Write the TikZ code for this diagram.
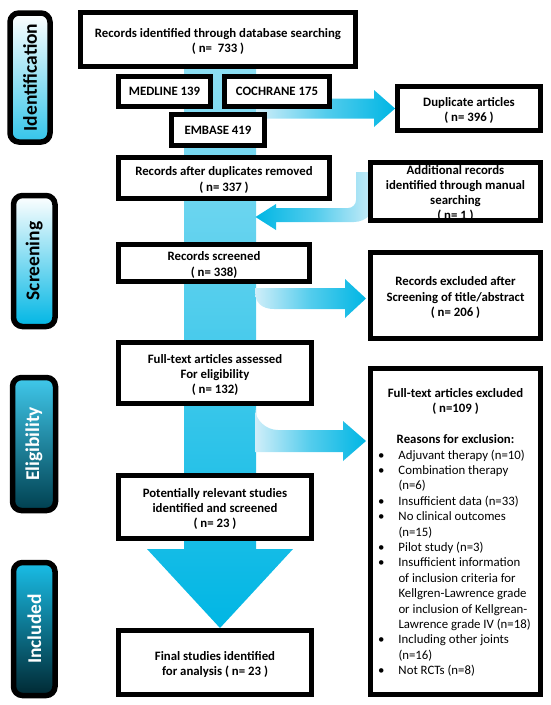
\documentclass[tikz,border=0pt]{standalone}
\usepackage{fontspec}
\usepackage{graphicx}
\usepackage{array}
\setmainfont{Carlito}
\usetikzlibrary{backgrounds}

\definecolor{flowcyan}{RGB}{0,182,228}
\definecolor{flowpale}{RGB}{208,238,249}

\newcommand{\boxlines}[1]{\raisebox{-2.5pt}[\height][\depth]{\begin{tabular}{@{}c@{}}#1\end{tabular}}}

\begin{document}
\begin{tikzpicture}[
    x=1pt,
    y=-1pt,
    box/.style={draw=black, line width=4.5pt, fill=white, inner sep=0pt,
      font=\bfseries\fontsize{12.8}{15.4}\selectfont},
    phase/.style={draw=black, line width=5.5pt, rounded corners=9pt, inner sep=0pt,
      font=\bfseries\fontsize{19.5}{19.5}\selectfont},
    identfill/.style={top color=white, middle color=white, bottom color=flowcyan!80!white},
    screenfill/.style={top color=white, middle color=flowcyan!50!white, bottom color=flowcyan},
    eligfill/.style={top color=flowcyan!75!white, middle color=flowcyan!85!black, bottom color=flowcyan!35!black},
    inclfill/.style={top color=flowcyan!90!white, middle color=flowcyan!55!black, bottom color=flowcyan!22!black},
    bandfill/.style={top color=flowcyan!45!white, middle color=flowcyan!88!white, bottom color=flowcyan},
    flowright/.style={left color=flowpale, right color=flowcyan, middle color=flowcyan!60!flowpale},
    flowleft/.style={left color=flowcyan, right color=flowpale, middle color=flowcyan!60!flowpale}
  ]
    \useasboundingbox (0,0) rectangle (550,705);

    % phase labels on the left
    \foreach \name/\xc/\yc/\bw/\bh/\fillstyle/\ink/\txt in {
      ident/30/77.5/40/129/identfill/black/Identification,
      screen/34.25/261/41.5/131/screenfill/black/Screening,
      elig/34/444/43/133/eligfill/white/Eligibility,
      incl/34.25/629/41.5/133/inclfill/white/Included} {
      \node[phase, \fillstyle, text=\ink, minimum width=\bw, minimum height=\bh]
        (\name) at (\xc,\yc) {\rotatebox{90}{\txt}};
    }

    % flow boxes
    \node[box, minimum width=275.4, minimum height=54.4] (db) at (218,39.5)
      {\boxlines{Records identified through database searching\\( n=\ \ 733 )}};
    \node[box, minimum width=92.4, minimum height=30.4] (medline) at (164.5,91.5) {MEDLINE 139};
    \node[box, minimum width=105.4, minimum height=30.4] (cochrane) at (277,91.5) {COCHRANE 175};
    \node[box, minimum width=93.4, minimum height=31.4] (embase) at (218,130) {EMBASE 419};
    \node[box, minimum width=143.4, minimum height=44.4] (dup) at (469,108.5)
      {\boxlines{Duplicate articles\\( n= 396 )}};
    \node[box, minimum width=211.4, minimum height=41.4] (afterdup) at (224,178)
      {\boxlines{Records after duplicates removed\\( n= 337 )}};
    \node[box, minimum width=170.4, minimum height=58.4, inner ysep=-3pt,
      font=\bfseries\fontsize{12.8}{15.1}\selectfont] (addl) at (455.5,191.5)
      {\boxlines{Additional records\\identified through manual\\searching\\( n= 1 )}};
    \node[box, minimum width=191.4, minimum height=37.4] (screened) at (214,263)
      {\boxlines{Records screened\\( n= 338)}};
    \node[box, minimum width=170.4, minimum height=86.4] (rexcl) at (455.5,295.5)
      {\boxlines{Records excluded after\\Screening of title/abstract\\( n= 206 )}};
    \node[box, minimum width=193.4, minimum height=61.4] (ftass) at (215,373)
      {\boxlines{Full-text articles assessed\\For eligibility\\( n= 132)}};
    \node[box, minimum width=193.4, minimum height=63.4] (potent) at (215,507)
      {\boxlines{Potentially relevant studies\\identified and screened\\( n= 23 )}};
    \node[box, minimum width=193.4, minimum height=64.4] (final) at (215,662.5)
      {\boxlines{Final studies identified\\for analysis ( n= 23 )}};
    \node[box, minimum width=170.4, minimum height=326.4] (ftexcl) at (455.5,531.5) {%
      \raisebox{-1.5pt}[\height][\depth]{%
      \begin{tabular}{@{}>{\mdseries\hspace*{7.5pt}}p{28pt}@{}>{\mdseries}p{142pt}@{}}
        \multicolumn{2}{@{}c@{}}{Full-text articles excluded}\\
        \multicolumn{2}{@{}c@{}}{( n=109 )}\\
        \multicolumn{2}{@{}c@{}}{}\\
        \multicolumn{2}{@{}c@{}}{Reasons for exclusion:}\\
        \textbullet & Adjuvant therapy (n=10)\\
        \textbullet & Combination therapy\\
                    & (n=6)\\
        \textbullet & Insufficient data (n=33)\\
        \textbullet & No clinical outcomes\\
                    & (n=15)\\
        \textbullet & Pilot study (n=3)\\
        \textbullet & Insufficient information\\
                    & of inclusion criteria for\\
                    & Kellgren-Lawrence grade\\
                    & or inclusion of Kellgrean-\\
                    & Lawrence grade IV (n=18)\\
        \textbullet & Including other joints\\
                    & (n=16)\\
        \textbullet & Not RCTs (n=8)
      \end{tabular}}};

    % band and block arrows behind the boxes
    \begin{scope}[on background layer]
      \shade[bandfill] (184,69) -- (256,69) -- (256,549) -- (293,549) -- (220,628)
        -- (147,549) -- (184,549) -- cycle;
      \shade[flowright] (256,98.5) -- (374,98.5) -- (374,90) -- (dup.west) -- (374,127)
        -- (374,118.5) -- (256,118.5) -- cycle;
      \shade[flowleft] (255.5,217) -- (276,204) -- (276,208) -- (348,208)
        .. controls (352.5,208) and (356,204.5) .. (356,200) -- (356,172) -- (376,172)
        -- (376,200) .. controls (376,212) and (366,222) .. (354,222) -- (276,222)
        -- (276,230) -- cycle;
      \shade[flowright] (366,298.5) -- (345,279) -- (345,288) -- (255,288) -- (255,291)
        .. controls (255,303) and (262,309) .. (274,309) -- (345,309) -- (345,318) -- cycle;
      \shade[flowright] (366,441) -- (343,421) -- (343,430) -- (278,430)
        .. controls (266,430) and (255,420) .. (255,408) -- (255,452) -- (343,452)
        -- (343,461) -- cycle;
    \end{scope}
  \end{tikzpicture}
\end{document}
